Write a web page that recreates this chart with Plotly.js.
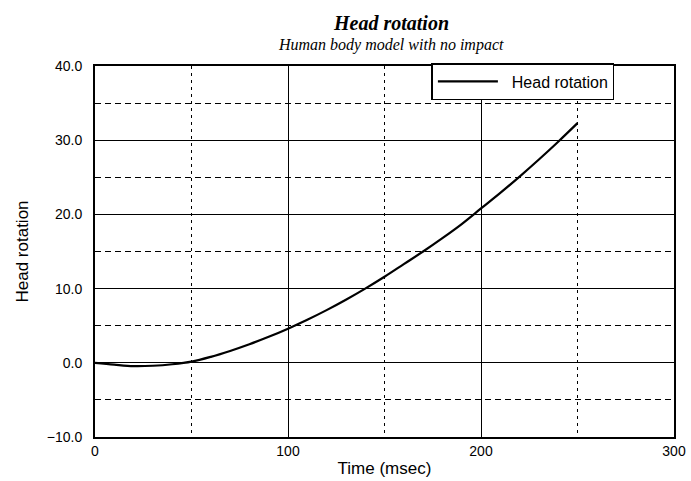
<!DOCTYPE html>
<html>
<head>
<meta charset="utf-8">
<script src="https://cdn.plot.ly/plotly-3.0.1.min.js"></script>
<style>html,body{margin:0;padding:0;background:#fff;}#chart{width:691px;height:481px;}</style>
</head>
<body>
<div id="chart"></div>
<script>
const timeMs = [0,10,20,30,40,50,60,70,80,90,100,110,120,130,140,150,160,170,180,190,200,210,220,230,240,250];
const headRotation = [0.0,-0.25,-0.45,-0.4,-0.2,0.15,0.8,1.6,2.5,3.5,4.6,5.8,7.1,8.5,10.0,11.6,13.3,15.0,16.8,18.7,20.8,22.9,25.1,27.4,29.8,32.3];
const seriesName = '\u00a0\u00a0Head rotation';
const chartTitle = '<b><i>Head rotation</i></b>';
const chartSubtitle = '<i>Human body model with no impact</i>';
const xTitle = 'Time (msec)';
const yTitle = 'Head rotation';

const trace = {
  x: timeMs, y: headRotation, type: 'scatter', mode: 'lines', name: seriesName,
  line: {color: '#000', width: 2.2, shape: 'spline'}, showlegend: true
};

const layout = {
  width: 691, height: 481,
  margin: {l: 95, r: 17, t: 66, b: 44},
  paper_bgcolor: '#fff', plot_bgcolor: '#fff',
  font: {family: 'Liberation Sans, Arial, sans-serif', color: '#000', size: 14},
  showlegend: true,
  legend: {
    x: 0.581, y: 1.008, xanchor: 'left', yanchor: 'top',
    bgcolor: '#fff', bordercolor: '#000', borderwidth: 1.5,
    font: {family: 'Liberation Sans, Arial, sans-serif', size: 16, color: '#000'},
    itemwidth: 60
  },
  annotations: [
    {text: chartTitle, xref: 'paper', yref: 'paper', x: 0.5, y: 1, yshift: 56, xshift: 6, showarrow: false,
     font: {family: 'Liberation Serif, Times New Roman, serif', size: 20, color: '#000'}},
    {text: chartSubtitle, xref: 'paper', yref: 'paper', x: 0.5, y: 1, yshift: 32, xshift: 6, showarrow: false,
     font: {family: 'Liberation Serif, Times New Roman, serif', size: 16, color: '#000'}}
  ],
  xaxis: {
    range: [0, 300], tickvals: [0,100,200,300], ticktext: ['0','100','200','300'],
    ticks: '', showline: true, mirror: true, linecolor: '#000', linewidth: 2,
    showgrid: true, gridcolor: '#000', gridwidth: 1, zeroline: false,
    tickfont: {size: 14}, ticklabelstandoff: 0,
    minor: {tickvals: [50,150,250], showgrid: true, gridcolor: '#000', gridwidth: 1, griddash: '3px,4px', ticks: ''},
    title: {text: xTitle, font: {size: 17}, standoff: 4}
  },
  yaxis: {
    range: [-10, 40], tickvals: [-10,0,10,20,30,40], tickformat: '.1f',
    ticks: '', showline: true, mirror: true, linecolor: '#000', linewidth: 2,
    showgrid: true, gridcolor: '#000', gridwidth: 1, zeroline: true, zerolinecolor: '#000', zerolinewidth: 1,
    tickfont: {size: 14}, ticklabelstandoff: 8,
    minor: {tickvals: [-5,5,15,25,35], showgrid: true, gridcolor: '#000', gridwidth: 1, griddash: '6px,4px', ticks: ''},
    title: {text: yTitle, font: {size: 17}, standoff: 14}
  }
};

Plotly.newPlot('chart', [trace], layout, {displayModeBar: false, staticPlot: true});
</script>
</body>
</html>
